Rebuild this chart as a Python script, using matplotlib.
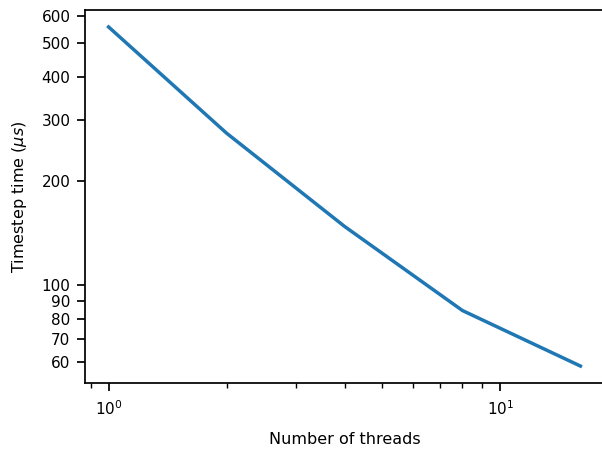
import matplotlib
matplotlib.use("Agg")
import matplotlib.pyplot as plt
from matplotlib.ticker import FixedLocator, FixedFormatter

threads = [1, 2, 4, 8, 16]
timestep_us = [557, 275, 148, 84.6, 58.5]
y_major_ticks = [60, 70, 80, 90, 100, 200, 300, 400, 500, 600]
y_major_labels = ["60", "70", "80", "90", "100", "200", "300", "400", "500", "600"]

plt.rcParams['font.family'] = ['DejaVu Sans']
plt.rcParams['font.size'] = 11

fig = plt.figure(figsize=(6.02, 4.5), dpi=100)
ax = fig.add_axes([85/602, 1 - 383/450, (604-85)/602, (383-10)/450])
ax.plot(threads, timestep_us, color='#1f77b4', linewidth=2.5)
ax.set_xscale('log')
ax.set_yscale('log')

ax.yaxis.set_major_locator(FixedLocator(y_major_ticks))
ax.yaxis.set_major_formatter(FixedFormatter(y_major_labels))
ax.yaxis.set_minor_locator(FixedLocator([100]))
ax.yaxis.set_minor_formatter(FixedFormatter(["100"]))

ax.spines['right'].set_visible(False)
for s in ['left', 'bottom', 'top']:
    ax.spines[s].set_linewidth(1.25)
ax.tick_params(which='major', length=6, width=1.25, labelsize=11)
ax.tick_params(which='minor', length=3.5, width=1.0, labelsize=11)
ax.tick_params(axis='y', which='minor', length=6, width=1.25)
ax.tick_params(axis='x', which='both', pad=6)
ax.tick_params(axis='y', which='both', pad=4.5)

ax.set_xlabel('Number of threads', labelpad=10, fontsize=11.5)
ax.set_ylabel(r'Timestep time ($\mu s$)', labelpad=9, fontsize=11.5)

fig.savefig('out.png', dpi=100)
